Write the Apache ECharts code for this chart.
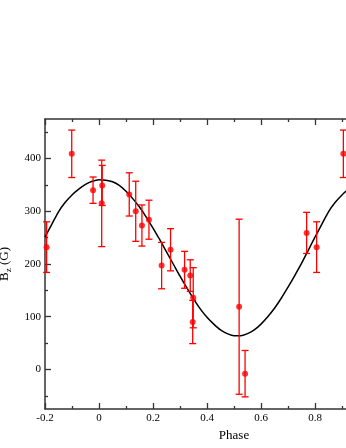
<!DOCTYPE html>
<html>
<head>
<meta charset="utf-8">
<script src="https://cdn.jsdelivr.net/npm/echarts@6/dist/echarts.min.js"></script>
<style>html,body{margin:0;padding:0;background:#fff;}#c{width:346px;height:448px;}</style>
</head>
<body>
<div id="c"></div>
<script>
// Observed data (phase, Bz in G, error in G)
const phases = [-0.194, -0.101, -0.022, 0.010, 0.012, 0.112, 0.136, 0.159, 0.185, 0.232, 0.265, 0.317, 0.338, 0.347, 0.349, 0.519, 0.541, 0.769, 0.806, 0.905];
const bz     = [232, 409, 340, 315, 349, 332, 300, 273, 284, 197, 227, 189, 178, 90, 136, 119, -8, 259, 232, 409];
const errs   = [48, 45, 25, 82, 38, 41, 57, 39, 37, 44, 40, 35, 30, 41, 57, 166, 44, 39, 48, 45];
// Fitted curve
const curvePhase = [-0.2, -0.175, -0.15, -0.125, -0.1, -0.075, -0.05, -0.025, 0, 0.025, 0.05, 0.075, 0.1, 0.125, 0.15, 0.175, 0.2, 0.225, 0.25, 0.275, 0.3, 0.325, 0.35, 0.375, 0.4, 0.425, 0.45, 0.475, 0.5, 0.525, 0.55, 0.575, 0.6, 0.625, 0.65, 0.675, 0.7, 0.725, 0.75, 0.775, 0.8, 0.825, 0.85, 0.875, 0.9, 0.925, 0.95, 0.975, 1.0];
const curveB     = [251, 275, 299, 317, 331, 342, 351, 357, 360, 359, 356, 349, 338, 324, 308, 289, 268, 246, 223, 200, 177, 155, 134, 115, 99, 86, 75, 68, 64, 64, 68, 75, 86, 100, 116, 135, 156, 178, 201, 226, 251, 275, 299, 317, 331, 342, 351, 357, 360];
// Tick values
const yMajorTicks = [0, 100, 200, 300, 400];
const yMinorTicks = [-50, 50, 150, 250, 350, 450];

const chart = echarts.init(document.getElementById('c'));
const font = 'Liberation Serif';
const axisCol = '#333';
const errData = phases.map((p, i) => [p, bz[i], errs[i]]);
const ptData = phases.map((p, i) => [p, bz[i]]);
const curveData = curvePhase.map((p, i) => [p, curveB[i]]);

const xCommon = {
  type: 'value', min: -0.2, max: 1.2, interval: 0.2,
  splitLine: {show: false},
  axisLine: {show: true, onZero: false, lineStyle: {color: axisCol, width: 1.5}},
  axisTick: {show: true, inside: true, length: 6, lineStyle: {color: axisCol, width: 1.3}},
  minorTick: {show: true, splitNumber: 2, length: 3, lineStyle: {color: axisCol, width: 1.3}},
};

chart.setOption({
  animation: false,
  backgroundColor: '#fff',
  grid: {left: 45, top: 119, width: 378, height: 290, containLabel: false, outerBoundsMode: 'none'},
  xAxis: [
    Object.assign({}, xCommon, {
      position: 'bottom',
      name: 'Phase', nameLocation: 'middle', nameGap: 12,
      nameTextStyle: {fontFamily: font, fontSize: 13, color: '#000'},
      axisLabel: {fontFamily: font, fontSize: 11, color: '#000', margin: 4,
        formatter: v => String(Math.round(v * 10) / 10)}
    }),
    Object.assign({}, xCommon, {position: 'top', axisLabel: {show: false}})
  ],
  yAxis: [
    {
      type: 'value', min: -75, max: 475, position: 'left',
      splitLine: {show: false},
      axisLine: {show: true, onZero: false, lineStyle: {color: axisCol, width: 1.5}},
      axisTick: {show: true, inside: true, length: 6, customValues: yMajorTicks, lineStyle: {color: axisCol, width: 1.3}},
      axisLabel: {customValues: yMajorTicks, fontFamily: font, fontSize: 11, color: '#000', margin: 4},
      name: '{b|B}{s|z}{b| (G)}', nameLocation: 'middle', nameGap: 21,
      nameTextStyle: {fontFamily: font, color: '#000',
        rich: {
          b: {fontFamily: font, fontSize: 13, color: '#000', lineHeight: 18, verticalAlign: 'middle'},
          s: {fontFamily: font, fontSize: 9, color: '#000', lineHeight: 18, verticalAlign: 'bottom'}
        }}
    },
    {
      type: 'value', min: -75, max: 475, position: 'left',
      splitLine: {show: false},
      axisLine: {show: false, onZero: false},
      axisTick: {show: true, inside: true, length: 3, customValues: yMinorTicks, lineStyle: {color: axisCol, width: 1.3}},
      axisLabel: {show: false}
    }
  ],
  series: [
    {
      type: 'line', data: curveData, smooth: 0.3, showSymbol: false,
      lineStyle: {color: '#000', width: 1.5}, z: 2, silent: true
    },
    {
      type: 'custom', data: errData, z: 3,
      renderItem: function (params, api) {
        const x = api.value(0), y = api.value(1), e = api.value(2);
        const top = api.coord([x, y + e]);
        const bot = api.coord([x, y - e]);
        const hw = 3.5;
        const st = {stroke: '#ff0000', lineWidth: 1.3};
        return {type: 'group', children: [
          {type: 'line', shape: {x1: top[0], y1: top[1], x2: bot[0], y2: bot[1]}, style: st},
          {type: 'line', shape: {x1: top[0] - hw, y1: top[1], x2: top[0] + hw, y2: top[1]}, style: st},
          {type: 'line', shape: {x1: bot[0] - hw, y1: bot[1], x2: bot[0] + hw, y2: bot[1]}, style: st}
        ]};
      }
    },
    {
      type: 'scatter', data: ptData, symbol: 'circle', symbolSize: 6,
      itemStyle: {color: '#ff0000'}, z: 4
    }
  ]
});
</script>
</body>
</html>
